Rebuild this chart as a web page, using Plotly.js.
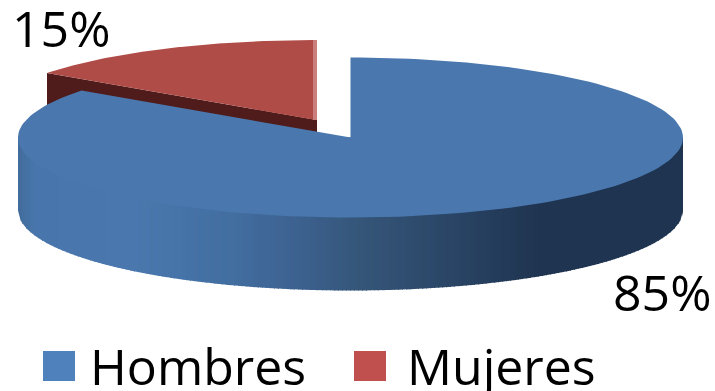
<!DOCTYPE html>
<html><head><meta charset="utf-8">
<script src="https://cdn.plot.ly/plotly-3.0.1.min.js"></script>
<style>html,body{margin:0;padding:0;background:#fff}#c{width:715px;height:391px}</style>
</head><body><div id="c"></div>
<script>
const categories = ['Hombres', 'Mujeres'];
const shares = [85, 15];
const percentLabels = ['85%', '15%'];
const legendColors = ['#4f81bd', '#c0504d'];
const topColors = ['#4a78ae', '#b04c48'];
const wallStops = [[18,'#406a9a'],[34,'#4876ac'],[130,'#4a78ae'],[230,'#426ea1'],[300,'#3c618f'],[360,'#355679'],[450,'#2a4566'],[540,'#1f3450'],[683,'#1e3450']];

const cx = 350.5, cy = 137.5, rx = 332.5, ry = 80, depth = 73;
const explodeX = -34.5, explodeY = -17.5;
const total = shares.reduce((a, b) => a + b, 0);
const FONT = '"Open Sans", sans-serif';

function sector(from, to, ox, oy) {
  const xs = [cx + ox], ys = [cy + oy];
  const n = 180;
  for (let i = 0; i <= n; i++) {
    const t = (from + (to - from) * i / n) * 2 * Math.PI;
    xs.push(cx + ox + rx * Math.sin(t));
    ys.push(cy + oy - ry * Math.cos(t));
  }
  xs.push(cx + ox); ys.push(cy + oy);
  return [xs, ys];
}
function hex(c) { return [1, 3, 5].map(i => parseInt(c.substr(i, 2), 16)); }
function wallColor(x) {
  for (let i = 1; i < wallStops.length; i++) {
    if (x <= wallStops[i][0]) {
      const a = wallStops[i - 1], b = wallStops[i];
      const f = Math.max(0, (x - a[0]) / (b[0] - a[0]));
      const p = hex(a[1]), q = hex(b[1]);
      return 'rgb(' + p.map((v, k) => Math.round(v + (q[k] - v) * f)).join(',') + ')';
    }
  }
  return wallStops[wallStops.length - 1][1];
}
function poly(x, y, color, name) {
  return { type: 'scatter', mode: 'lines', x, y, fill: 'toself', fillcolor: color,
           line: { width: 0, color }, hoverinfo: 'skip', showlegend: false, name };
}

const blueEnd = shares[0] / total;
const traces = [];

// exploded Mujeres slice: cut face, then its top
const t0 = blueEnd * 2 * Math.PI;
const apexX = cx + explodeX, apexY = cy + explodeY;
const cornerX = apexX + rx * Math.sin(t0), cornerY = apexY - ry * Math.cos(t0);
traces.push(poly([apexX + 1, cornerX, cornerX, apexX + 1, apexX + 1],
                 [apexY, cornerY, cornerY + depth, apexY + depth, apexY], '#4f1c1b', 'Mujeres cut'));
const rs = sector(blueEnd, 1, explodeX, explodeY);
traces.push(poly(rs[0], rs[1], topColors[1], categories[1]));
traces.push({ type: 'scatter', mode: 'lines', x: [apexX - 1, apexX - 1], y: [apexY - ry, apexY],
              line: { width: 4, color: '#cb7f7c' }, hoverinfo: 'skip', showlegend: false });

// Hombres outer wall, shaded in thin strips; the top surface covers their upper part
const step = 4;
function wallBottom(px) {
  const u = Math.min(1, Math.abs(px - cx) / rx);
  return cy + ry * Math.sqrt(1 - u * u) + depth;
}
for (let x = cx - rx; x < cx + rx; x += step) {
  const x2 = Math.min(x + step + 1, cx + rx);
  const xm = (x + x2) / 2;
  traces.push(poly([x, x2, x2, xm, x, x], [cy, cy, wallBottom(x2), wallBottom(xm), wallBottom(x), cy],
                   wallColor(x + step / 2), 'wall'));
}
const bs = sector(0, blueEnd, 0, 0);
traces.push(poly(bs[0], bs[1], topColors[0], categories[0]));

const shapes = [
  { type: 'rect', x0: 43, x1: 75, y0: 351, y1: 381, fillcolor: legendColors[0], line: { width: 0 } },
  { type: 'rect', x0: 354, x1: 386, y0: 351, y1: 381, fillcolor: legendColors[1], line: { width: 0 } }
];
function label(text, x, y) {
  return { text, x, y, xref: 'x', yref: 'y', xanchor: 'left', yanchor: 'middle', showarrow: false,
           font: { family: FONT, size: 50, color: '#000' }, borderpad: 0, borderwidth: 0 };
}
const annotations = [
  label(percentLabels[1], 12, 28),
  label(percentLabels[0], 613, 292),
  label(categories[0], 90, 366),
  label(categories[1], 407, 366)
];

Plotly.newPlot('c', traces, {
  width: 715, height: 391, margin: { l: 0, r: 0, t: 0, b: 0 },
  paper_bgcolor: '#fff', plot_bgcolor: '#fff', showlegend: false,
  xaxis: { range: [0, 715], visible: false, fixedrange: true },
  yaxis: { range: [391, 0], visible: false, fixedrange: true },
  shapes, annotations
}, { staticPlot: true, displayModeBar: false });
</script></body></html>
